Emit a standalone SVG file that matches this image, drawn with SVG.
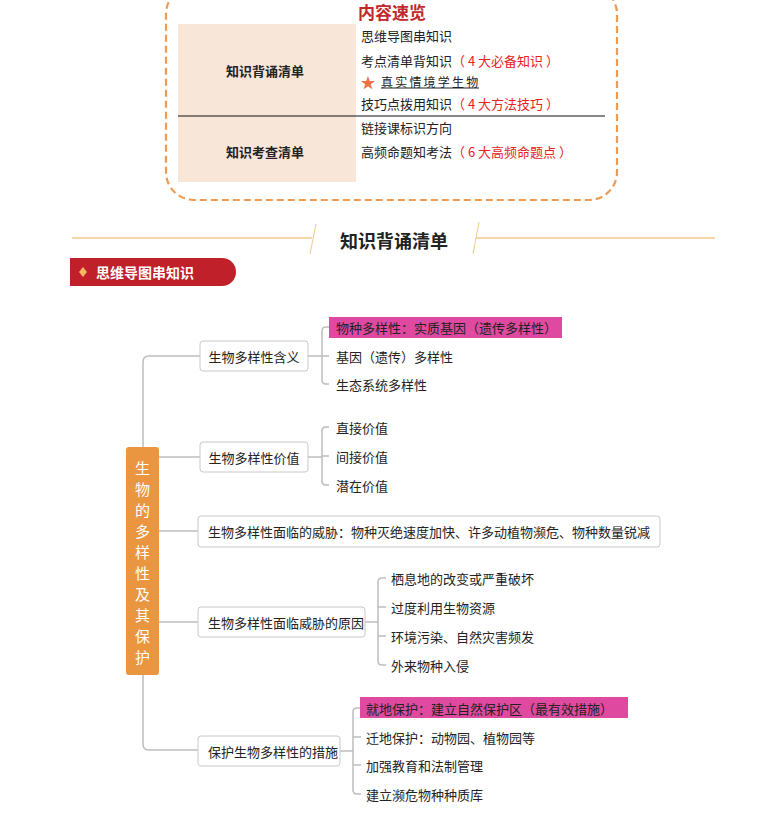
<svg xmlns="http://www.w3.org/2000/svg" width="784" height="819" viewBox="0 0 784 819">
<style>
text{font-family:"Noto Sans CJK SC","Liberation Sans",sans-serif;fill:#222}
.t{font-size:13px;dominant-baseline:central}
.n{fill:#fff;stroke:#c8c8c8;stroke-width:1}
.c{fill:none;stroke:#bdbdbd;stroke-width:1.5}
.r{fill:#e8201e}
</style>
<rect width="784" height="819" fill="#fff"/>
<g id="overview">
<rect x="166" y="-14" width="451" height="214" rx="28" fill="none" stroke="#ee9a52" stroke-width="2.2" stroke-dasharray="7,4"/>
<text x="392" y="11" text-anchor="middle" font-size="17" font-weight="bold" style="fill:#c0282c" dominant-baseline="central">内容速览</text>
<rect x="178" y="24" width="178" height="158" fill="#f8e6d8"/>
<line x1="178" y1="116" x2="605" y2="116" stroke="#111" stroke-width="1.2"/>
<text x="265" y="70" text-anchor="middle" font-size="13" font-weight="bold" dominant-baseline="central">知识背诵清单</text>
<text x="265" y="151" text-anchor="middle" font-size="13" font-weight="bold" dominant-baseline="central">知识考查清单</text>
<text class="t" x="361" y="35">思维导图串知识</text>
<text class="t" x="361" y="60">考点清单背知识<tspan class="r">（ 4 大必备知识 ）</tspan></text>
<text x="368" y="81" font-size="15" text-anchor="middle" style="fill:#f07048" dominant-baseline="central">★</text>
<text x="381" y="81" font-size="12" letter-spacing="2.2" font-family="'Noto Sans CJK SC',serif" dominant-baseline="central">真实情境学生物</text>
<line x1="381" y1="88" x2="479" y2="88" stroke="#222" stroke-width="1"/>
<text class="t" x="361" y="103">技巧点拨用知识<tspan class="r">（ 4 大方法技巧 ）</tspan></text>
<text class="t" x="361" y="127">链接课标识方向</text>
<text class="t" x="361" y="151">高频命题知考法<tspan class="r">（ 6 大高频命题点 ）</tspan></text>
</g>
<g id="section-header">
<line x1="72" y1="238" x2="312" y2="238" stroke="#f2c98a" stroke-width="1.5"/>
<line x1="476" y1="238" x2="715" y2="238" stroke="#f2c98a" stroke-width="1.5"/>
<line x1="316" y1="224" x2="310" y2="254" stroke="#f2c98a" stroke-width="1"/>
<line x1="479" y1="222" x2="473" y2="254" stroke="#f2c98a" stroke-width="1"/>
<text x="394" y="240" text-anchor="middle" font-size="18" font-weight="bold" dominant-baseline="central">知识背诵清单</text>
</g>
<g id="badge">
<path d="M70 258 H222 A14 14 0 0 1 222 286 H70 Z" fill="#c0202a"/>
<path d="M83 267 L87 272 L83 277 L79 272 Z" fill="#f5b860"/>
<text x="96" y="272" font-size="14" font-weight="bold" style="fill:#fff" dominant-baseline="central">思维导图串知识</text>
</g>
<g id="connectors">
<path class="c" d="M200 356 H149 Q143 356 143 362 V447"/>
<path class="c" d="M143 675 V744 Q143 750 149 750 H198"/>
<line class="c" x1="159" y1="457" x2="200" y2="457"/>
<line class="c" x1="159" y1="531" x2="198" y2="531"/>
<line class="c" x1="159" y1="622" x2="198" y2="622"/>
<line class="c" x1="308" y1="356" x2="322" y2="356"/>
<path class="c" d="M329 327 H326 Q322 327 322 331 V380 Q322 384 326 384 H329 M322 356 H329"/>
<line class="c" x1="308" y1="457" x2="322" y2="457"/>
<path class="c" d="M329 427 H326 Q322 427 322 431 V481 Q322 485 326 485 H329 M322 456 H329"/>
<line class="c" x1="365" y1="622" x2="378" y2="622"/>
<path class="c" d="M386 578 H382 Q378 578 378 582 V661 Q378 665 382 665 H386 M378 607 H386 M378 636 H386"/>
<line class="c" x1="340" y1="751" x2="353" y2="751"/>
<path class="c" d="M361 708 H357 Q353 708 353 712 V790 Q353 794 357 794 H361 M353 737 H361 M353 765 H361"/>
</g>
<g id="root">
<rect x="126" y="447" width="33" height="228" rx="3" fill="#ea9640"/>
<g font-size="15" text-anchor="middle">
<text x="142.5" y="467" style="fill:#fff" dominant-baseline="central">生</text>
<text x="142.5" y="488" style="fill:#fff" dominant-baseline="central">物</text>
<text x="142.5" y="509" style="fill:#fff" dominant-baseline="central">的</text>
<text x="142.5" y="530" style="fill:#fff" dominant-baseline="central">多</text>
<text x="142.5" y="551" style="fill:#fff" dominant-baseline="central">样</text>
<text x="142.5" y="572" style="fill:#fff" dominant-baseline="central">性</text>
<text x="142.5" y="593" style="fill:#fff" dominant-baseline="central">及</text>
<text x="142.5" y="614" style="fill:#fff" dominant-baseline="central">其</text>
<text x="142.5" y="635" style="fill:#fff" dominant-baseline="central">保</text>
<text x="142.5" y="656" style="fill:#fff" dominant-baseline="central">护</text>
</g>
</g>
<g id="node-meaning">
<rect class="n" x="200" y="341" width="108" height="30" rx="3"/>
<text class="t" x="254" y="356" text-anchor="middle">生物多样性含义</text>
<rect x="329" y="317" width="233" height="21" fill="#df4aa0"/>
<text class="t" x="336" y="327">物种多样性：实质基因（遗传多样性）</text>
<text class="t" x="336" y="356">基因（遗传）多样性</text>
<text class="t" x="336" y="384">生态系统多样性</text>
</g>
<g id="node-value">
<rect class="n" x="200" y="442" width="108" height="30" rx="3"/>
<text class="t" x="254" y="457" text-anchor="middle">生物多样性价值</text>
<text class="t" x="336" y="427">直接价值</text>
<text class="t" x="336" y="456">间接价值</text>
<text class="t" x="336" y="485">潜在价值</text>
</g>
<g id="node-threat">
<rect class="n" x="198" y="516" width="462" height="31" rx="3"/>
<text class="t" x="208" y="531">生物多样性面临的威胁：物种灭绝速度加快、许多动植物濒危、物种数量锐减</text>
</g>
<g id="node-cause">
<rect class="n" x="198" y="607" width="167" height="30" rx="3"/>
<text class="t" x="208" y="622">生物多样性面临威胁的原因</text>
<text class="t" x="391" y="578">栖息地的改变或严重破坏</text>
<text class="t" x="391" y="607">过度利用生物资源</text>
<text class="t" x="391" y="636">环境污染、自然灾害频发</text>
<text class="t" x="391" y="665">外来物种入侵</text>
</g>
<g id="node-measure">
<rect class="n" x="198" y="736" width="142" height="30" rx="3"/>
<text class="t" x="208" y="751">保护生物多样性的措施</text>
<rect x="360" y="697" width="268" height="21" fill="#df4aa0"/>
<text class="t" x="366" y="708">就地保护：建立自然保护区（最有效措施）</text>
<text class="t" x="366" y="737">迁地保护：动物园、植物园等</text>
<text class="t" x="366" y="765">加强教育和法制管理</text>
<text class="t" x="366" y="794">建立濒危物种种质库</text>
</g>
</svg>
